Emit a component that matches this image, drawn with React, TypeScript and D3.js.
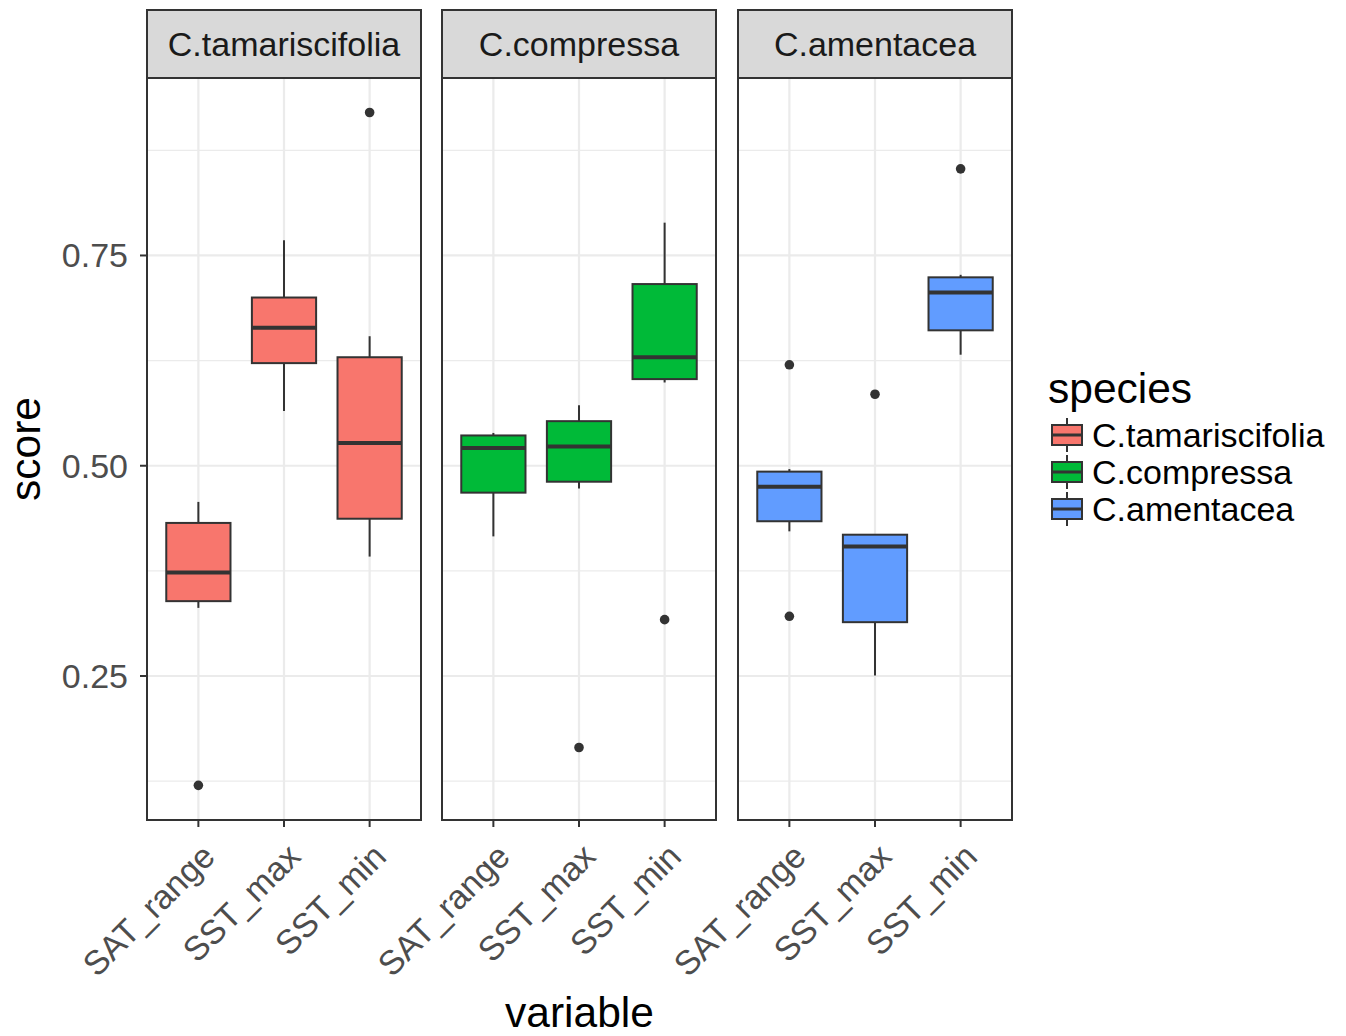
import { useEffect } from 'react'
import * as d3 from 'd3'

const SPECIES = ['C.tamariscifolia', 'C.compressa', 'C.amentacea']
const VARIABLES = ['SAT_range', 'SST_max', 'SST_min']
const FILLS = ['#F8766D', '#00BA38', '#619CFF']

// per variable: [lower whisker, q1, median, q3, upper whisker]
const tamariscifoliaStats = [
  [0.331, 0.339, 0.373, 0.432, 0.457],
  [0.565, 0.622, 0.664, 0.7, 0.768],
  [0.392, 0.437, 0.527, 0.629, 0.654]
]
const tamariscifoliaOutliers = [[0.12], [], [0.92]]

const compressaStats = [
  [0.416, 0.468, 0.521, 0.536, 0.539],
  [0.473, 0.481, 0.523, 0.553, 0.572],
  [0.599, 0.603, 0.629, 0.716, 0.789]
]
const compressaOutliers = [[], [0.165], [0.317]]

const amentaceaStats = [
  [0.422, 0.434, 0.475, 0.493, 0.496],
  [0.2506, 0.314, 0.404, 0.418, 0.418],
  [0.632, 0.661, 0.706, 0.724, 0.727]
]
const amentaceaOutliers = [[0.62, 0.321], [0.585], [0.853]]

const Y_TICKS = [0.25, 0.5, 0.75]
const Y_MINOR = [0.125, 0.375, 0.625, 0.875]

const STATS = [tamariscifoliaStats, compressaStats, amentaceaStats]
const OUTLIERS = [tamariscifoliaOutliers, compressaOutliers, amentaceaOutliers]

const W = 1346
const H = 1036
const FONT = '"Liberation Sans", Arial, Helvetica, sans-serif'
const INK = '#333333'

const panelLeft = [147, 442, 738]
const panelW = 274
const stripTop = 10
const panelTop = 78
const panelBottom = 820

export default function App() {
  useEffect(() => {
    document.body.style.margin = '0'
  }, [])

  const y = d3.scaleLinear().domain([0.0788, 0.961]).range([panelBottom, panelTop])
  const fmt = d3.format('.2f')

  return (
    <svg width={W} height={H} style={{ display: 'block', background: '#fff' }} fontFamily={FONT}>
      {SPECIES.map((sp, si) => {
        const x0 = panelLeft[si]
        const x = d3.scalePoint<string>().domain(VARIABLES).range([x0, x0 + panelW]).padding(0.6)
        const boxW = x.step() * 0.75
        return (
          <g key={sp}>
            {/* grid */}
            {Y_MINOR.map(v => (
              <line key={'mn' + v} x1={x0} x2={x0 + panelW} y1={y(v)} y2={y(v)} stroke="#EBEBEB" strokeWidth={1.1} />
            ))}
            {Y_TICKS.map(v => (
              <line key={'mj' + v} x1={x0} x2={x0 + panelW} y1={y(v)} y2={y(v)} stroke="#EBEBEB" strokeWidth={2.2} />
            ))}
            {VARIABLES.map(v => (
              <line key={'vx' + v} x1={x(v)} x2={x(v)} y1={panelTop} y2={panelBottom} stroke="#EBEBEB" strokeWidth={2.2} />
            ))}
            {/* boxes */}
            {VARIABLES.map((v, vi) => {
              const [lo, q1, med, q3, hi] = STATS[si][vi]
              const cx = x(v) as number
              return (
                <g key={'b' + v}>
                  <line x1={cx} x2={cx} y1={y(hi)} y2={y(q3)} stroke={INK} strokeWidth={2} />
                  <line x1={cx} x2={cx} y1={y(q1)} y2={y(lo)} stroke={INK} strokeWidth={2} />
                  <rect x={cx - boxW / 2} y={y(q3)} width={boxW} height={y(q1) - y(q3)} fill={FILLS[si]} stroke={INK} strokeWidth={2} />
                  <line x1={cx - boxW / 2} x2={cx + boxW / 2} y1={y(med)} y2={y(med)} stroke={INK} strokeWidth={4} />
                  {OUTLIERS[si][vi].map((o, oi) => (
                    <circle key={oi} cx={cx} cy={y(o)} r={4.8} fill={INK} />
                  ))}
                </g>
              )
            })}
            {/* panel border */}
            <rect x={x0} y={panelTop} width={panelW} height={panelBottom - panelTop} fill="none" stroke={INK} strokeWidth={2} />
            {/* strip */}
            <rect x={x0} y={stripTop} width={panelW} height={panelTop - stripTop} fill="#D9D9D9" stroke={INK} strokeWidth={2} />
            <text x={x0 + panelW / 2} y={(stripTop + panelTop) / 2} textAnchor="middle" dominantBaseline="central" fontSize={34} fill="#1A1A1A">
              {sp}
            </text>
            {/* x ticks + labels */}
            {VARIABLES.map(v => {
              const cx = x(v) as number
              return (
                <g key={'xt' + v}>
                  <line x1={cx} x2={cx} y1={panelBottom} y2={panelBottom + 7} stroke={INK} strokeWidth={2} />
                  <text
                    transform={`translate(${cx + 1},${panelBottom + 21}) rotate(-45)`}
                    textAnchor="end"
                    dominantBaseline="hanging"
                    fontSize={34}
                    fill="#4D4D4D"
                  >
                    {v}
                  </text>
                </g>
              )
            })}
          </g>
        )
      })}
      {/* y axis */}
      {Y_TICKS.map(v => (
        <g key={'yt' + v}>
          <line x1={140} x2={147} y1={y(v)} y2={y(v)} stroke={INK} strokeWidth={2} />
          <text x={128} y={y(v)} textAnchor="end" dominantBaseline="central" fontSize={34} fill="#4D4D4D">
            {fmt(v)}
          </text>
        </g>
      ))}
      <text transform={`translate(40,${(panelTop + panelBottom) / 2}) rotate(-90)`} textAnchor="middle" fontSize={42.5} fill="#000">
        score
      </text>
      <text x={(panelLeft[0] + panelLeft[2] + panelW) / 2} y={1027} textAnchor="middle" fontSize={42.5} fill="#000">
        variable
      </text>
      {/* legend */}
      <text x={1048} y={403} fontSize={42.5} fill="#000">species</text>
      {SPECIES.map((sp, si) => {
        const cy = 435 + si * 37
        const kx = 1052
        const kw = 30
        return (
          <g key={'lg' + sp}>
            <line x1={kx + kw / 2} x2={kx + kw / 2} y1={cy - 17} y2={cy + 17} stroke={INK} strokeWidth={2} />
            <rect x={kx} y={cy - 10} width={kw} height={20} fill={FILLS[si]} stroke={INK} strokeWidth={2} />
            <line x1={kx} x2={kx + kw} y1={cy} y2={cy} stroke={INK} strokeWidth={3} />
            <text x={1092} y={cy} dominantBaseline="central" fontSize={34} fill="#000">
              {sp}
            </text>
          </g>
        )
      })}
    </svg>
  )
}
